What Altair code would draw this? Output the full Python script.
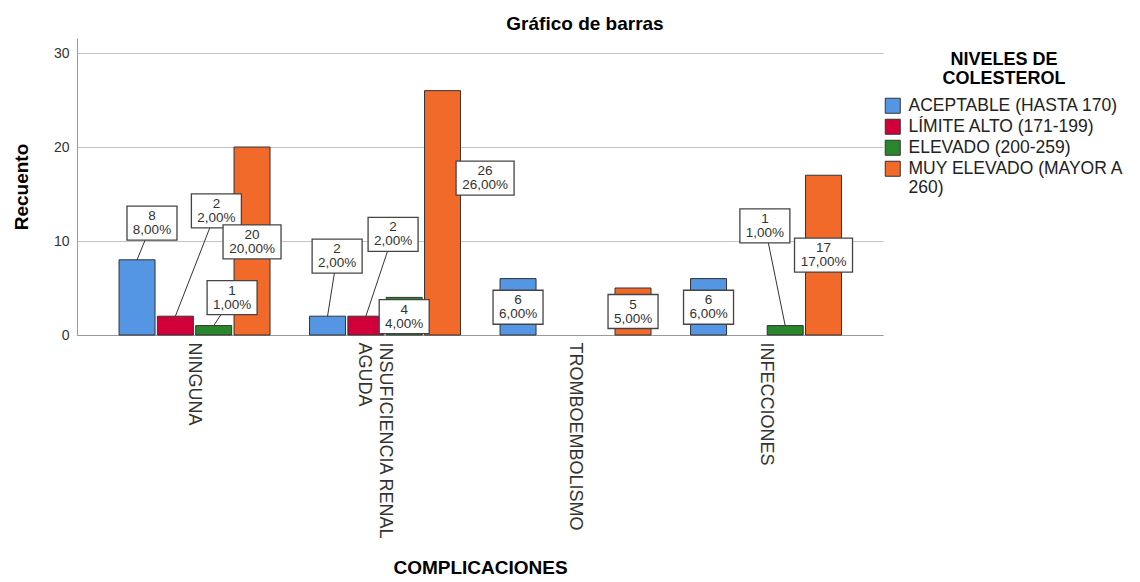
import json
import altair as alt
import pandas as pd

# ---------------- data ----------------
categories = ["NINGUNA", "INSUFICIENCIA RENAL AGUDA", "TROMBOEMBOLISMO", "INFECCIONES"]
category_lines = [["NINGUNA"], ["INSUFICIENCIA RENAL", "AGUDA"], ["TROMBOEMBOLISMO"], ["INFECCIONES"]]
levels = ["ACEPTABLE (HASTA 170)", "LÍMITE ALTO (171-199)", "ELEVADO (200-259)", "MUY ELEVADO (MAYOR A 260)"]
colors = ["#5596E4", "#D2003A", "#2A862C", "#F26A2A"]

aceptable = [8, 2, 6, 6]
limite_alto = [2, 2, 0, 0]
elevado = [1, 4, 0, 1]
muy_elevado = [20, 26, 5, 17]

# label-box layout (annotation placement): shift in bar steps, box centre in count units
label_shift = [[0.39, 0.25, 0, 0], [1.07, 0.71, 0, 0], [0.48, 0, 0, -0.53], [0, 1.11, 0, 0]]
label_level = [[11.9, 8.4, 2.95, 2.95], [13.2, 10.7, 0, 0], [3.97, 1.95, 0, 11.6], [9.9, 16.7, 2.5, 8.5]]

# ---------------- layout constants ----------------
W, H = 806, 297
XMIN, XMAX = -0.617, 3.614
YMAX = 31.6
PX_X = W / (XMAX - XMIN)
PX_Y = H / YMAX
BAR_STEP = 38.33 / PX_X
BAR_HALF = 18 / PX_X
FONT = "Liberation Sans"

rows = []
for li, (lvl, vals) in enumerate(zip(levels, [aceptable, limite_alto, elevado, muy_elevado])):
    for ci, cat in enumerate(categories):
        rows.append(dict(category=cat, ci=ci, level=lvl, li=li, count=vals[ci],
                         shift=label_shift[li][ci], ly=label_level[li][ci]))
df = pd.DataFrame(rows)

base = alt.Chart(df).transform_filter("datum.count > 0").transform_joinaggregate(
    total="sum(count)"
).transform_calculate(
    xc=f"datum.ci + (datum.li - 1.5) * {BAR_STEP}",
    x0=f"datum.ci + (datum.li - 1.5) * {BAR_STEP} - {BAR_HALF}",
    x1=f"datum.ci + (datum.li - 1.5) * {BAR_STEP} + {BAR_HALF}",
    lx=f"datum.ci + (datum.li - 1.5 + datum.shift) * {BAR_STEP}",
    hw=f"(datum.count >= 10 ? 29 : 25) / {PX_X}",
    pct="datum.count / datum.total * 100",
    zero="0",
)
base = base.transform_calculate(
    bx0="datum.lx - datum.hw",
    bx1="datum.lx + datum.hw",
    by0=f"datum.ly - {17 / PX_Y}",
    by1=f"datum.ly + {17 / PX_Y}",
    txt="[toString(datum.count), replace(format(datum.pct, '.2f'), '.', ',') + '%']",
)

xscale = alt.Scale(domain=[XMIN, XMAX], nice=False, zero=False)
yscale = alt.Scale(domain=[0, YMAX], nice=False)

label_expr = json.dumps(category_lines, ensure_ascii=False) + "[datum.value]"

xaxis = alt.Axis(
    values=[0, 1, 2, 3], labelExpr=label_expr, labelAngle=90, labelFontSize=18,
    labelFont=FONT, labelColor="#333333", labelLineHeight=21, labelPadding=7,
    labelLimit=400, labelOffset=-1,
    ticks=False, grid=False, domainColor="#999999", title="COMPLICACIONES",
    titleFont=FONT, titleFontSize=19, titleFontWeight="bold", titleColor="#000000",
    titlePadding=23, labelOverlap=False)
yaxis = alt.Axis(
    values=[0, 10, 20, 30], grid=True, gridColor="#C4C4C4", ticks=False,
    labelFontSize=14, labelFont=FONT, labelColor="#333333", labelPadding=8,
    domainColor="#999999", title="Recuento", titleFont=FONT, titleFontSize=19,
    titleFontWeight="bold", titleColor="#000000", titlePadding=22)


def X(f):
    return alt.X(f, scale=xscale, axis=xaxis, title="COMPLICACIONES")


def Y(f):
    return alt.Y(f, scale=yscale, axis=yaxis, title="Recuento")


bars = base.mark_bar(stroke="#333333", strokeWidth=1).encode(
    x=X("x0:Q"),
    x2="x1:Q",
    y=Y("count:Q"),
    y2="zero:Q",
    color=alt.Color("level:N", scale=alt.Scale(domain=levels, range=colors), legend=alt.Legend(
        title=["NIVELES DE", "COLESTEROL"], orient="none", legendX=W + 1, legendY=13,
        titleFont=FONT, titleFontSize=18, titleFontWeight="bold", titleColor="#000000",
        titleAlign="center", titleAnchor="middle", titleLineHeight=19, titlePadding=9,
        labelFont=FONT, labelFontSize=17.5, labelColor="#222222", labelOffset=7,
        labelExpr="datum.label == 'MUY ELEVADO (MAYOR A 260)' ? ['MUY ELEVADO (MAYOR A', '260)'] : datum.label",
        labelLimit=400, symbolType="square", symbolSize=225, symbolStrokeColor="#333333",
        symbolStrokeWidth=1, symbolOpacity=1, rowPadding=1, padding=0)),
)

leaders = base.transform_filter(f"datum.ly - {17 / PX_Y} > datum.count").mark_rule(
    color="#333333", strokeWidth=1
).encode(
    x=X("xc:Q"),
    y=Y("count:Q"),
    x2="lx:Q",
    y2="ly:Q",
)

boxes = base.mark_rect(fill="white", stroke="#444444", strokeWidth=1.3).encode(
    x=X("bx0:Q"),
    x2="bx1:Q",
    y=Y("by0:Q"),
    y2="by1:Q",
)

texts = base.mark_text(font=FONT, fontSize=13.5, color="#333333", baseline="middle",
                       align="center", lineHeight=14, dy=-7).encode(
    x=X("lx:Q"),
    y=Y("ly:Q"),
    text="txt:N",
)

chart = alt.layer(bars, leaders, boxes, texts).properties(
    width=W, height=H,
    title=alt.TitleParams("Gráfico de barras", font=FONT, fontSize=19, fontWeight="bold",
                          color="#000000", anchor="middle", dx=105, offset=4),
    autosize=alt.AutoSizeParams(type="none"),
    padding={"left": 77, "top": 38, "right": 257, "bottom": 247},
    background="white",
).configure_view(stroke=None)

chart.save("out.html", embed_options={"renderer": "svg", "actions": False})
